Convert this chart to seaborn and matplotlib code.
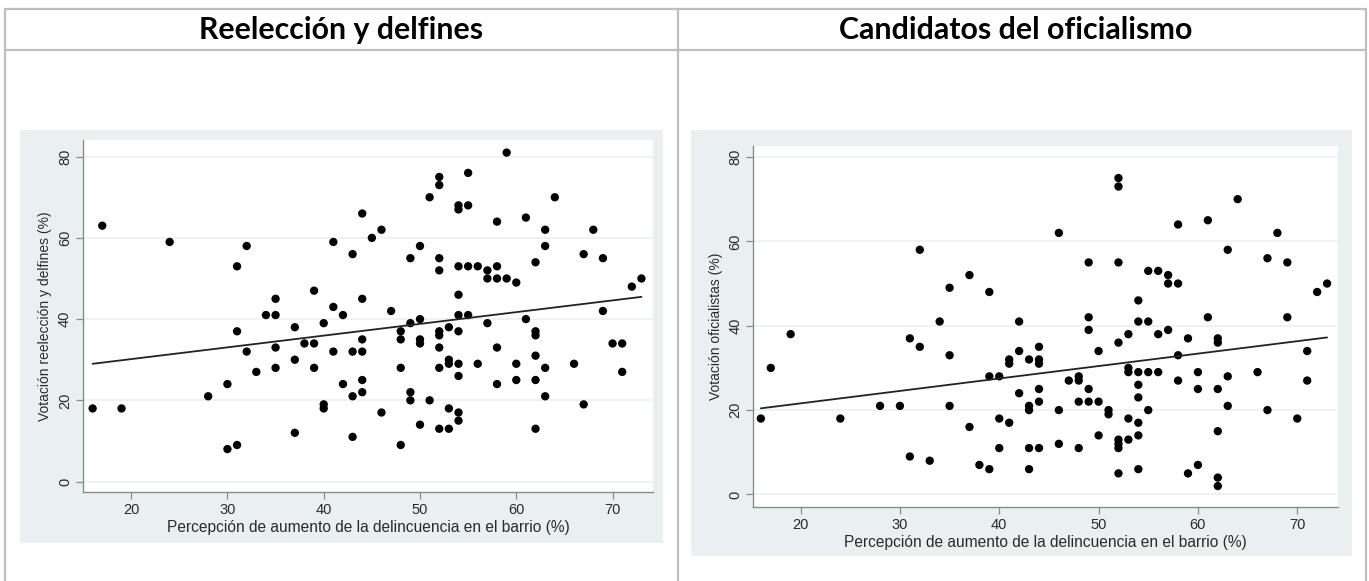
import numpy as np
import pandas as pd
import seaborn as sns
import matplotlib
matplotlib.use("Agg")
import matplotlib.pyplot as plt
from matplotlib.patches import Rectangle
from matplotlib.lines import Line2D

# ---------------- data ----------------
titles = ["Reelección y delfines", "Candidatos del oficialismo"]
x_label = "Percepción de aumento de la delincuencia en el barrio (%)"
y_labels = ["Votación reelección y delfines (%)", "Votación oficialistas (%)"]
x_ticks = [20, 30, 40, 50, 60, 70]
y_ticks = [0, 20, 40, 60, 80]

reel_x = [16, 17, 19, 24, 28, 30, 30, 31, 31, 31, 32, 32, 33, 34, 35, 35, 35, 35, 37, 37,
          37, 38, 39, 39, 39, 40, 40, 40, 41, 41, 41, 42, 42, 43, 43, 43, 43, 44, 44, 44,
          44, 44, 44, 45, 46, 46, 47, 48, 48, 48, 48, 49, 49, 49, 49, 50, 50, 50, 50, 50,
          51, 51, 52, 52, 52, 52, 52, 52, 52, 52, 52, 53, 53, 53, 53, 53, 54, 54, 54, 54,
          54, 54, 54, 54, 54, 54, 55, 55, 55, 55, 56, 56, 57, 57, 57, 58, 58, 58, 58, 58,
          59, 59, 60, 60, 60, 61, 61, 62, 62, 62, 62, 62, 62, 63, 63, 63, 63, 64, 66, 67,
          67, 68, 69, 69, 70, 71, 71, 72, 73]
reel_y = [18, 63, 18, 59, 21, 24, 8, 53, 37, 9, 58, 32, 27, 41, 45, 41, 33, 28, 38, 30,
          12, 34, 47, 34, 28, 39, 19, 18, 59, 43, 32, 41, 24, 56, 32, 21, 11, 66, 45, 35,
          32, 25, 22, 60, 62, 17, 42, 37, 35, 28, 9, 55, 39, 22, 20, 58, 40, 35, 34, 14,
          70, 20, 75, 73, 55, 52, 37, 36, 33, 28, 13, 38, 30, 29, 18, 13, 68, 67, 53, 46,
          41, 37, 29, 26, 17, 15, 76, 68, 53, 41, 53, 29, 52, 50, 39, 64, 53, 50, 33, 24,
          81, 50, 49, 29, 25, 65, 40, 54, 37, 36, 31, 25, 13, 62, 58, 28, 21, 70, 29, 56,
          19, 62, 55, 42, 34, 34, 27, 48, 50]

ofic_x = [16, 17, 19, 24, 28, 30, 31, 31, 32, 32, 33, 34, 35, 35, 35, 37, 37, 38, 39, 39,
          39, 40, 40, 40, 41, 41, 41, 42, 42, 42, 43, 43, 43, 43, 43, 44, 44, 44, 44, 44,
          44, 46, 46, 46, 47, 48, 48, 48, 48, 49, 49, 49, 49, 49, 50, 50, 50, 51, 51, 52,
          52, 52, 52, 52, 52, 52, 52, 53, 53, 53, 53, 53, 54, 54, 54, 54, 54, 54, 54, 54,
          55, 55, 55, 55, 56, 56, 56, 57, 57, 57, 58, 58, 58, 58, 59, 59, 60, 60, 60, 61,
          61, 62, 62, 62, 62, 62, 62, 63, 63, 63, 64, 66, 67, 67, 68, 69, 69, 70, 71, 71,
          72, 73]
ofic_y = [18, 30, 38, 18, 21, 21, 37, 9, 58, 35, 8, 41, 49, 33, 21, 52, 16, 7, 48, 28,
          6, 28, 18, 11, 32, 31, 17, 41, 34, 24, 32, 21, 20, 11, 6, 35, 32, 31, 25, 22,
          11, 62, 20, 12, 27, 28, 27, 22, 11, 55, 42, 39, 25, 22, 34, 22, 14, 20, 19, 75,
          73, 55, 36, 13, 12, 11, 5, 38, 30, 29, 18, 13, 46, 41, 29, 26, 23, 17, 14, 6,
          53, 41, 29, 20, 53, 38, 29, 52, 50, 39, 64, 50, 33, 27, 37, 5, 29, 25, 7, 65,
          42, 37, 36, 25, 15, 4, 2, 58, 28, 21, 70, 29, 56, 20, 62, 55, 42, 18, 34, 27,
          48, 50]

frames = [pd.DataFrame({"x": reel_x, "y": reel_y}),
          pd.DataFrame({"x": ofic_x, "y": ofic_y})]

# ---------------- layout (pixels) ----------------
W, H = 1369, 581
sns.set_theme(style="white")
plt.rcParams["font.family"] = ["Liberation Sans", "DejaVu Sans"]

fig = plt.figure(figsize=(W / 100, H / 100), dpi=100)
fig.patch.set_facecolor("white")


def fx(x):
    return x / W


def fy(y):
    return 1 - y / H


line_c = "#BEBEBE"
for (x0, y0, x1, y1) in [(5, 9, 1366, 9), (5, 50, 1366, 50), (5, 9, 5, 581),
                         (678, 9, 678, 581), (1366, 9, 1366, 581)]:
    fig.add_artist(Line2D([fx(x0), fx(x1)], [fy(y0), fy(y1)], color=line_c, lw=1.6,
                          transform=fig.transFigure, zorder=-5))

panels = [(20, 130, 663, 543), (691, 130, 1352, 556)]
plots = [(83, 140, 653, 491.7), (753.3, 146, 1338, 506.7)]
xlims = [(15.0, 74.2), (15.24, 74.1)]
ylims = [(-2.5, 84.1), (-2.9, 82.6)]
title_cx = [341, 1016]
title_w = [285, 355]

for i in range(2):
    x0, y0, x1, y1 = panels[i]
    fig.add_artist(Rectangle((fx(x0), fy(y1)), (x1 - x0) / W, (y1 - y0) / H,
                             transform=fig.transFigure, facecolor="#EAF0F2",
                             edgecolor="none", zorder=-10))
    px0, py0, px1, py1 = plots[i]
    ax = fig.add_axes([fx(px0), fy(py1), (px1 - px0) / W, (py1 - py0) / H])
    ax.set_zorder(5)
    ax.set_facecolor("white")
    df = frames[i]
    sns.regplot(data=df, x="x", y="y", ax=ax, ci=None,
                scatter_kws=dict(s=36, color="black", edgecolor="none", alpha=1),
                line_kws=dict(color="#222222", lw=1.3))
    ax.set_xlim(*xlims[i])
    ax.set_ylim(*ylims[i])
    ax.set_xticks(x_ticks)
    ax.set_yticks(y_ticks)
    ax.grid(False)
    for yv in y_ticks:
        ax.axhline(yv, color="#EAF0F2", lw=1.2, zorder=0)
    for s in ["top", "right"]:
        ax.spines[s].set_visible(False)
    for s in ["left", "bottom"]:
        ax.spines[s].set_color("#8A8A8A")
        ax.spines[s].set_linewidth(1.0)
    ax.tick_params(axis="both", direction="out", length=5, width=0.9, color="#8A8A8A",
                   labelsize=10.5, labelcolor="#2A2A2A", pad=3, bottom=True, left=True)
    for lab in ax.get_yticklabels():
        lab.set_rotation(90)
        lab.set_va("center")
    ax.set_xlabel(x_label, fontsize=11.2, color="#2A2A2A", labelpad=2)
    ax.set_ylabel(y_labels[i], fontsize=10, color="#2A2A2A", labelpad=4)

    t = fig.text(fx(title_cx[i]), fy(30), titles[i], ha="center", va="center",
                 fontsize=15, fontweight="bold", family=["Lato", "DejaVu Sans"],
                 color="black")
    fig.canvas.draw()
    w = t.get_window_extent().width
    t.set_fontsize(15 * title_w[i] / w)

fig.savefig("out.png", dpi=100)
